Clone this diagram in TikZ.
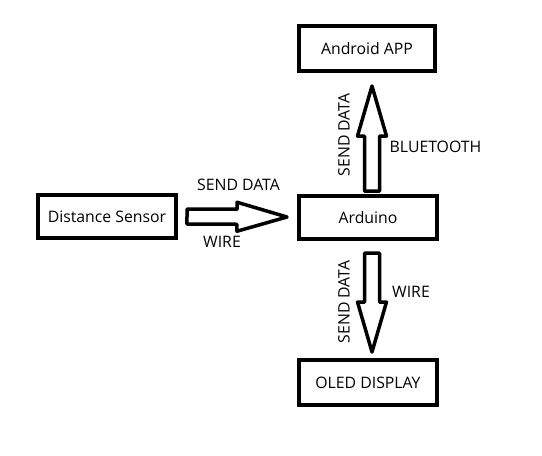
\documentclass[tikz,border=0pt]{standalone}
\usepackage{fontspec}
\setmainfont{Open Sans}
\usetikzlibrary{calc}
\tikzset{
  box/.style={draw=black, line width=4pt, fill=white, inner sep=0pt, font=\fontsize{15.8}{17}\selectfont},
  lbl/.style={inner sep=0pt, font=\fontsize{15.8}{17}\selectfont},
  blk/.style={draw=black, line width=3.5pt, line join=round, fill=white}
}
\newcommand{\blkarrow}[2]{%
  \coordinate (H) at ($(#2)!50pt!(#1)$);
  \draw[blk] ($(#1)!7.5pt!90:(#2)$) -- ($(H)!7.5pt!90:(#2)$) -- ($(H)!14.5pt!90:(#2)$) -- (#2)
    -- ($(H)!14.5pt!-90:(#2)$) -- ($(H)!7.5pt!-90:(#2)$) -- ($(#1)!7.5pt!-90:(#2)$) -- cycle;}
\begin{document}
\begin{tikzpicture}[x=1pt,y=-1pt]
\useasboundingbox[fill=white] (0,0) rectangle (542,456);
\node[box, minimum width=138pt, minimum height=43pt] (sensor) at (107,216.5) {Distance Sensor};
\node[box, minimum width=138pt, minimum height=43pt] (arduino) at (368,217.5) {Arduino};
\node[box, minimum width=136pt, minimum height=45pt] (android) at (367,48.5) {Android APP};
\node[box, minimum width=138pt, minimum height=45pt] (oled) at (368,382.5) {OLED DISPLAY};
\coordinate (r0) at (187,216.5);
\coordinate (r1) at (287,217);
\coordinate (u0) at (372,191);
\coordinate (u1) at (372,86);
\coordinate (d0) at (372,253);
\coordinate (d1) at (372,352);
\blkarrow{r0}{r1}
\blkarrow{u0}{u1}
\blkarrow{d0}{d1}
\node[lbl] (t1) at (238.5,185) {SEND DATA};
\node[lbl] (t2) at (222,242) {WIRE};
\node[lbl, rotate=90] (t3) at (344,135) {SEND DATA};
\node[lbl] (t4) at (435.5,147) {BLUETOOTH};
\node[lbl, rotate=90] (t5) at (344,302) {SEND DATA};
\node[lbl] (t6) at (411,292) {WIRE};
\end{tikzpicture}
\end{document}
